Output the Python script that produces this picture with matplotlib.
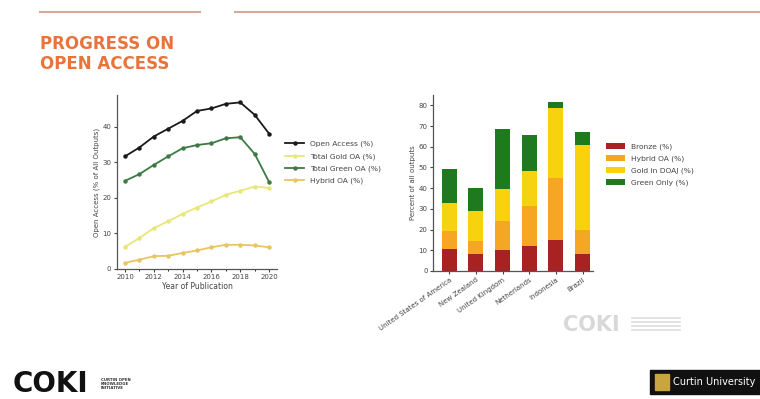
import matplotlib
matplotlib.use("Agg")
import matplotlib.pyplot as plt
import numpy as np
from matplotlib.patches import Rectangle

# Left chart: open access over time
years = [2010, 2011, 2012, 2013, 2014, 2015, 2016, 2017, 2018, 2019, 2020]
open_access = [31.7, 34.2, 37.3, 39.5, 41.7, 44.5, 45.2, 46.5, 46.9, 43.4, 38.1]
total_gold = [6.2, 8.7, 11.5, 13.4, 15.5, 17.3, 19.0, 20.9, 22.0, 23.2, 22.8]
total_green = [24.8, 26.7, 29.3, 31.7, 34.0, 34.9, 35.4, 36.8, 37.1, 32.4, 24.5]
hybrid = [1.7, 2.6, 3.6, 3.7, 4.5, 5.2, 6.1, 6.8, 6.8, 6.6, 6.1]
line_labels = ["Open Access (%)", "Total Gold OA (%)", "Total Green OA (%)", "Hybrid OA (%)"]

# Right chart: OA composition by country
countries = ["United States of America", "New Zealand", "United Kingdom",
             "Netherlands", "Indonesia", "Brazil"]
bronze = [10.8, 8.1, 10.0, 11.9, 14.8, 8.2]
hybrid_oa = [8.6, 6.3, 14.0, 19.6, 30.2, 11.8]
gold_doaj = [13.5, 14.6, 15.4, 16.7, 33.5, 40.8]
green_only = [16.1, 11.2, 29.1, 17.4, 3.0, 6.5]
bar_labels = ["Bronze (%)", "Hybrid OA (%)", "Gold in DOAJ (%)", "Green Only (%)"]

fig = plt.figure(figsize=(7.6, 3.99), dpi=100)
fig.patch.set_facecolor("white")

txt = "#444444"

# --- slide decoration ---
fig.add_artist(plt.Line2D([40 / 760, 200 / 760], [1 - 12 / 399] * 2, color="#d8a898", lw=1.5))
fig.add_artist(plt.Line2D([235 / 760, 1.0], [1 - 12 / 399] * 2, color="#d8a898", lw=1.5))
fig.text(40 / 760, 1 - 54 / 399, "PROGRESS ON\nOPEN ACCESS", color="#e8743b",
         fontsize=12, fontweight="heavy", va="center", ha="left", linespacing=1.2)

# --- left line chart ---
ax1 = fig.add_axes([0.154, 0.326, 0.2105, 0.436])
series = [open_access, total_gold, total_green, hybrid]
colors = ["#1a1a1a", "#e9e77a", "#3d7a45", "#e8c463"]
for vals, c, lab in zip(series, colors, line_labels):
    ax1.plot(years, vals, color=c, lw=1.3, marker="o", ms=2.2, label=lab)
ax1.set_xlim(2009.45, 2020.55)
ax1.set_ylim(0, 49)
ax1.set_xticks([2010, 2012, 2014, 2016, 2018, 2020])
ax1.set_xticks(years, minor=True)
ax1.set_yticks([0, 10, 20, 30, 40])
ax1.set_xlabel("Year of Publication", fontsize=5.5, color=txt, labelpad=1)
ax1.set_ylabel("Open Access (% of All Outputs)", fontsize=5, color=txt, labelpad=2)
ax1.tick_params(labelsize=5, colors=txt, length=2.5, width=0.8, pad=1.5)
ax1.tick_params(which="minor", length=1.5, width=0.6)
for s in ["top", "right"]:
    ax1.spines[s].set_visible(False)
for s in ["left", "bottom"]:
    ax1.spines[s].set_color("#555555")
    ax1.spines[s].set_linewidth(0.9)
ax1.legend(loc="upper left", bbox_to_anchor=(1.03, 0.755), frameon=False, fontsize=5.4,
           handlelength=2.6, handletextpad=0.8, labelspacing=0.75, labelcolor=txt,
           borderaxespad=0)

# --- right stacked bar chart ---
ax2 = fig.add_axes([0.570, 0.321, 0.2105, 0.441])
x = np.arange(len(countries))
stacks = [bronze, hybrid_oa, gold_doaj, green_only]
bar_colors = ["#a82222", "#f5a623", "#f7d20f", "#1f7a1f"]
bottom = np.zeros(len(countries))
for vals, c, lab in zip(stacks, bar_colors, bar_labels):
    ax2.bar(x, vals, bottom=bottom, width=0.57, color=c, label=lab)
    bottom += np.array(vals)
ax2.set_xlim(-0.6, 5.4)
ax2.set_ylim(0, 85)
ax2.set_yticks(np.arange(0, 81, 10))
ax2.set_xticks(x)
ax2.set_xticklabels(countries, rotation=35, ha="right", rotation_mode="anchor",
                    fontsize=4.8, color=txt)
ax2.set_ylabel("Percent of all outputs", fontsize=5, color=txt, labelpad=2)
ax2.tick_params(labelsize=5, colors=txt, length=2.5, width=0.8, pad=1.5)
for s in ["top", "right"]:
    ax2.spines[s].set_visible(False)
for s in ["left", "bottom"]:
    ax2.spines[s].set_color("#555555")
    ax2.spines[s].set_linewidth(0.9)
ax2.legend(loc="upper left", bbox_to_anchor=(1.06, 0.745), frameon=False, fontsize=5.4,
           handlelength=2.6, handleheight=0.9, handletextpad=0.8, labelspacing=0.65,
           labelcolor=txt, borderaxespad=0)

# --- logos as text ---
fig.text(563 / 760, 1 - 325 / 399, "COKI", fontsize=15, fontweight="bold",
         color="#d8d8d8", va="center", ha="left")
for i in range(4):
    yy = 1 - (318 + i * 4) / 399
    fig.add_artist(plt.Line2D([632 / 760, 680 / 760], [yy, yy], color="#dddddd", lw=1.2))

fig.text(13 / 760, 1 - 384 / 399, "COKI", fontsize=20, fontweight="heavy",
         color="#111111", va="center", ha="left")
fig.text(101 / 760, 1 - 384 / 399, "CURTIN OPEN\nKNOWLEDGE\nINITIATIVE", fontsize=2.8,
         fontweight="bold", color="#333333", va="center", ha="left", linespacing=1.1)

fig.add_artist(Rectangle((650 / 760, 1 - 394 / 399), 110 / 760, 24 / 399,
                         transform=fig.transFigure, color="#111111"))
fig.add_artist(Rectangle((655 / 760, 1 - 390 / 399), 14 / 760, 16 / 399,
                         transform=fig.transFigure, color="#c9a442"))
fig.text(673 / 760, 1 - 382 / 399, "Curtin University", fontsize=7, color="white",
         va="center", ha="left", clip_on=False)

fig.savefig("out.png", dpi=100, facecolor="white")
